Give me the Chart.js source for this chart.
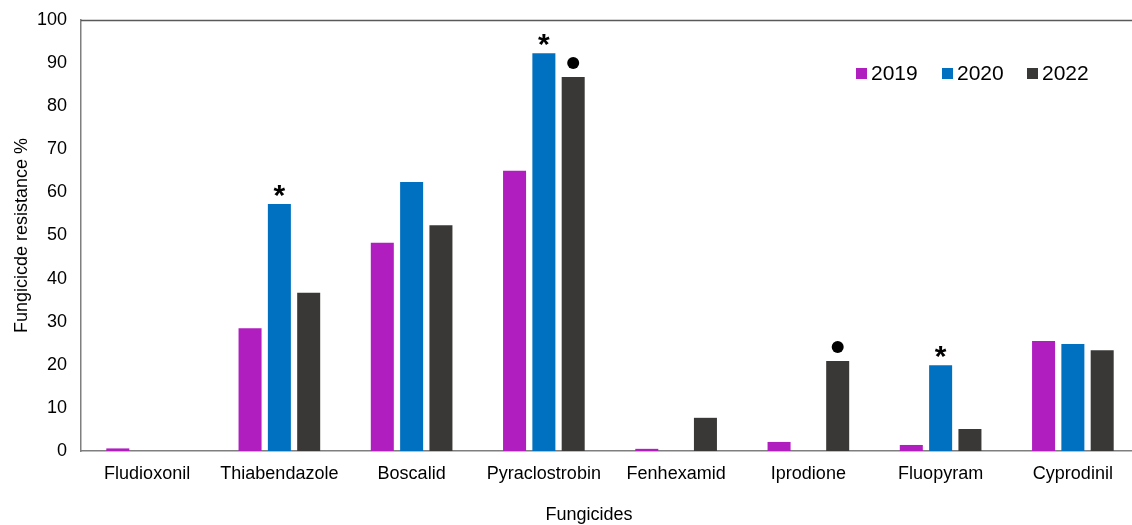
<!DOCTYPE html>
<html>
<head>
<meta charset="utf-8">
<script src="https://cdn.jsdelivr.net/npm/chart.js@4.4.1/dist/chart.umd.min.js"></script>
<style>
  html, body { margin:0; padding:0; background:#fff; overflow:hidden; }
  #wrap { width:1139px; height:525px; position:relative; }
</style>
</head>
<body>
<div id="wrap"><canvas id="c"></canvas></div>
<script>
const categories = ['Fludioxonil','Thiabendazole','Boscalid','Pyraclostrobin','Fenhexamid','Iprodione','Fluopyram','Cyprodinil'];
const years      = ['2019','2020','2022'];
const v2019 = [0.6, 28.5, 48.3, 65.0, 0.5, 2.1, 1.4, 25.5];
const v2020 = [0,   57.3, 62.4, 92.3, 0,   0,   19.9, 24.8];
const v2022 = [0,   36.7, 52.4, 86.8, 7.7, 20.9, 5.1, 23.4];
// significance marks drawn above bars
const mark2020 = ['', '*', '', '*', '', '', '*', ''];
const mark2022 = ['', '', '', 'dot', '', 'dot', '', ''];
const yTicks = { min:0, max:100, step:10 };
const xTitle = 'Fungicides';
const yTitle = 'Fungicicde resistance %';

const colors = ['#B01EC0', '#0070C0', '#3A3836'];
const FONT = 'Liberation Sans, Arial, sans-serif';

const marksPlugin = {
  id:'marks',
  afterDatasetsDraw(chart) {
    const ctx = chart.ctx;
    const a = chart.chartArea;
    // top frame line
    ctx.save();
    ctx.strokeStyle = '#595959'; ctx.lineWidth = 1.5;
    ctx.beginPath(); ctx.moveTo(a.left, a.top + 0.5); ctx.lineTo(a.right, a.top + 0.5); ctx.stroke();
    ctx.restore();

    const sets = [[1, mark2020], [2, mark2022]];
    sets.forEach(([di, marks]) => {
      const meta = chart.getDatasetMeta(di);
      meta.data.forEach((bar, i) => {
        const m = marks[i];
        if (!m) return;
        ctx.save();
        ctx.fillStyle = '#000';
        if (m === 'dot') {
          ctx.beginPath(); ctx.arc(bar.x, bar.y - 14, 6, 0, Math.PI*2); ctx.fill();
        } else {
          ctx.font = 'bold 30px ' + FONT;
          ctx.textAlign = 'center'; ctx.textBaseline = 'middle';
          ctx.fillText(m, bar.x, bar.y - 7);
        }
        ctx.restore();
      });
    });

    // legend
    const lx = [856, 942, 1027], ly = 73;
    ctx.save();
    ctx.font = '21px ' + FONT;
    ctx.textBaseline = 'middle';
    years.forEach((y, i) => {
      ctx.fillStyle = colors[i];
      ctx.fillRect(lx[i], ly - 5, 11, 11);
      ctx.fillStyle = '#000';
      ctx.fillText(y, lx[i] + 15, ly + 1);
    });

    // x axis title (sits a bit left of the plot centre in the original)
    ctx.font = '18px ' + FONT;
    ctx.textAlign = 'center';
    ctx.fillText(xTitle, 589, 515);
    ctx.restore();
  }
};

new Chart(document.getElementById('c'), {
  type:'bar',
  data:{
    labels: categories,
    datasets: [v2019, v2020, v2022].map((d, i) => ({
      label: years[i], data: d, backgroundColor: colors[i],
      categoryPercentage: 0.665, barPercentage: 0.785
    }))
  },
  options:{
    responsive:true, maintainAspectRatio:false, animation:false,
    layout:{ padding:{ top:20, left:0, right:0, bottom:0 } },
    plugins:{ legend:{ display:false }, tooltip:{ enabled:false } },
    scales:{
      x:{
        grid:{ display:false, drawTicks:false },
        border:{ color:'#7F7F7F', width:1.5 },
        ticks:{ color:'#000', font:{ family:FONT, size:18 }, padding:12, maxRotation:0 },
        afterFit(s) { s.height = 74; s.paddingLeft = 0; s.paddingRight = 0; }
      },
      y:{
        min:yTicks.min, max:yTicks.max,
        grid:{ display:false, drawTicks:false },
        border:{ color:'#7F7F7F', width:1.5 },
        ticks:{ stepSize:yTicks.step, color:'#000', font:{ family:FONT, size:18 }, padding:14 },
        title:{ display:true, text:yTitle, color:'#000', font:{ family:FONT, size:18 }, padding:{ top:11, bottom:0 } },
        afterFit(s) { s.width = 81; s.paddingTop = 0; s.paddingBottom = 0; }
      }
    }
  },
  plugins:[marksPlugin]
});
</script>
</body>
</html>
